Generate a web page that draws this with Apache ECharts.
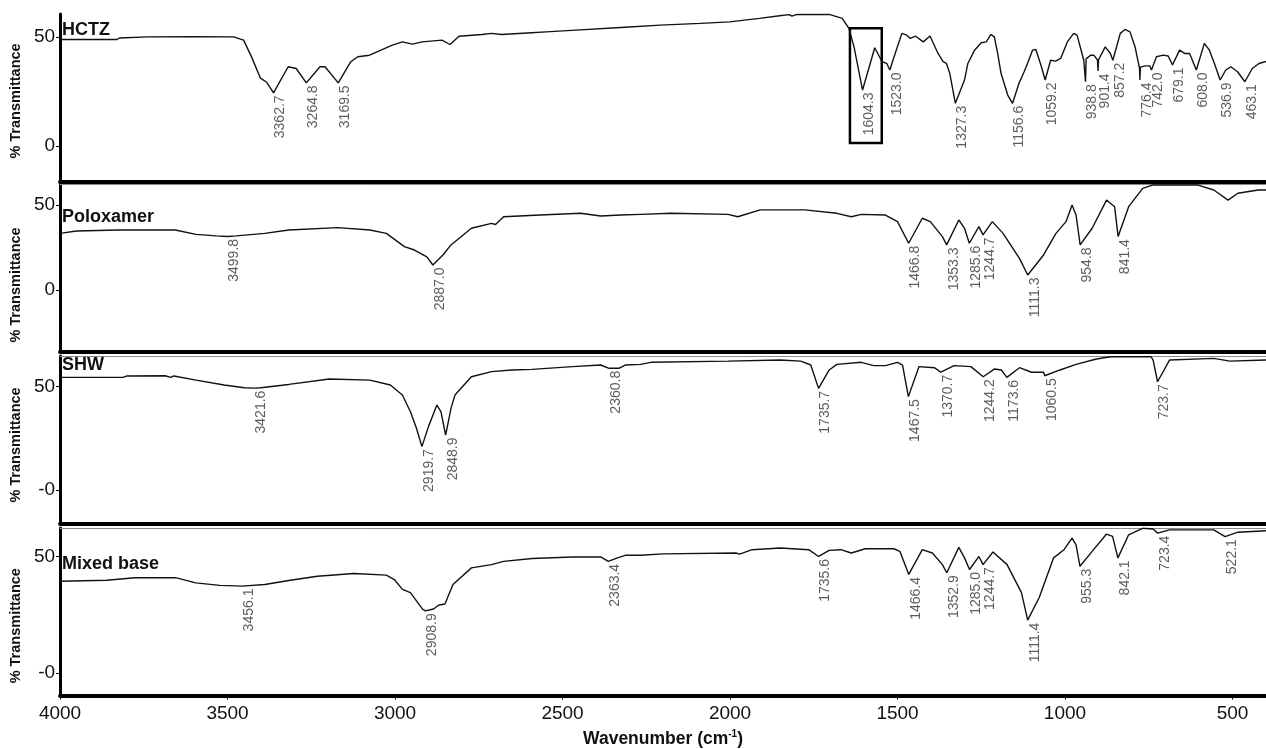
<!DOCTYPE html>
<html>
<head>
<meta charset="utf-8">
<title>FTIR spectra</title>
<script src="https://cdn.jsdelivr.net/npm/echarts@6/dist/echarts.min.js"></script>
<style>
  html, body { margin: 0; padding: 0; background: #fff; }
  #chart { width: 1266px; height: 749px; }
</style>
</head>
<body>
<div id="chart"></div>
<script>
// ---- data: wavenumber (cm-1), % transmittance ----
const panelNames = ['HCTZ', 'Poloxamer', 'SHW', 'Mixed base'];
const wavenumberTicks = [4000, 3500, 3000, 2500, 2000, 1500, 1000, 500];
const yTickValues = [0, 50];
const yTickLabels = [['0', '50'], ['0', '50'], ['-0', '50'], ['-0', '50']];

const hctzTrace = [
  [4000, 48.9], [3830, 48.9], [3822, 49.6], [3740, 50.1], [3600, 50.2], [3482, 50.1], [3452, 48.6],
  [3428, 40.8], [3402, 31.2], [3384, 29.4], [3319, 36.4], [3295, 35.6], [3224, 36.4], [3209, 36.4],
  [3132, 38.7], [3111, 41.0], [3076, 41.7], [3008, 46.3], [2978, 47.8], [2948, 46.8], [2943, 47.2],
  [2919, 47.8], [2860, 48.6], [2836, 46.6], [2809, 50.4], [2741, 51.2], [2712, 51.7], [2682, 51.2],
  [2593, 52.0], [2549, 52.4], [2460, 53.2], [2326, 54.4], [2208, 55.5], [2089, 56.3], [2001, 57.0],
  [1912, 58.6], [1852, 59.8], [1823, 60.3], [1815, 59.6], [1800, 60.4], [1704, 60.4], [1665, 58.6],
  [1645, 54.0], [1630, 45.6], [1568, 45.1], [1546, 38.7], [1532, 37.9], [1507, 42.5], [1487, 51.7],
  [1472, 50.9], [1462, 49.4], [1446, 50.4], [1423, 47.8], [1403, 50.5], [1379, 42.5], [1364, 38.7],
  [1354, 37.9], [1344, 33.4], [1300, 30.3], [1290, 37.9], [1270, 44.0], [1250, 47.4], [1235, 47.8],
  [1221, 51.2], [1211, 50.1], [1201, 42.5], [1191, 33.4], [1171, 23.4], [1137, 28.9], [1122, 34.1],
  [1112, 37.9], [1097, 44.0], [1087, 44.3], [1072, 37.2], [1043, 39.4], [1028, 39.0], [1013, 40.2],
  [993, 47.8], [974, 51.7], [964, 50.9], [944, 39.4], [940.5, 39.4], [937, 40.0], [924, 41.7],
  [914, 41.7], [903, 39.5], [899.8, 39.6], [880, 45.5], [865, 42.6], [835, 51.7], [821, 53.5],
  [806, 52.4], [791, 45.6], [777.5, 35.6], [775, 36.2], [761, 36.8], [747, 36.8], [727, 41.0],
  [707, 41.7], [692, 41.3], [658, 44.0], [643, 42.5], [628, 42.5], [584, 47.1], [569, 44.0],
  [554, 37.9], [520, 34.9], [505, 36.4], [485, 34.1], [441, 35.6], [421, 37.9], [400, 38.8]
];
const hctzPeaks = [
  [3362.7, 24.4], [3264.8, 29.0], [3169.5, 29.0], [1604.3, 25.7], [1523.0, 34.9], [1327.3, 19.6],
  [1156.6, 19.6], [1059.2, 30.3], [938.8, 29.5], [901.4, 34.5], [857.2, 39.4], [776.4, 30.3],
  [742.0, 34.9], [679.1, 37.2], [608.0, 34.9], [536.9, 30.3], [463.1, 29.5]
];
// outlined region around the 1604.3 band: [from cm-1, to cm-1, top %T, bottom %T]
const hctzBox = [1642, 1547, 54.1, 1.4];

const poloxamerTrace = [
  [4000, 33.3], [3951, 34.7], [3825, 35.3], [3656, 35.3], [3594, 32.7], [3534, 31.8], [3474, 31.8],
  [3389, 33.3], [3317, 35.3], [3171, 36.7], [3075, 35.3], [3026, 33.3], [2972, 25.5], [2942, 23.5],
  [2905, 19.5], [2857, 20.6], [2833, 26.5], [2772, 36.3], [2712, 39.2], [2700, 38.5], [2676, 43.1],
  [2567, 44.1], [2446, 45.1], [2386, 43.5], [2326, 44.1], [2267, 44.5], [2176, 45.1], [2006, 44.5],
  [1977, 43.1], [1910, 47.1], [1777, 47.1], [1681, 45.1], [1638, 43.1], [1608, 44.5], [1536, 44.1],
  [1500, 40.2], [1426, 42.2], [1402, 40.2], [1366, 31.4], [1317, 41.2], [1300, 36.3], [1257, 37.3],
  [1217, 40.2], [1185, 33.3], [1136, 18.6], [1064, 20.6], [1027, 33.3], [997, 40.2], [979, 50.0],
  [967, 44.1], [919, 36.3], [876, 52.9], [852, 49.0], [810, 49.0], [768, 59.8], [737, 61.8],
  [605, 61.8], [556, 58.8], [513, 52.9], [484, 56.9], [423, 58.8], [400, 58.8]
];
const poloxamerPeaks = [
  [3499.8, 31.5], [2887.0, 14.7], [1466.8, 27.5], [1353.3, 26.5], [1285.6, 27.5], [1244.7, 32.4],
  [1111.3, 8.8], [954.8, 26.5], [841.4, 31.4]
];

const shwTrace = [
  [4000, 54.5], [3812, 54.5], [3800, 55.2], [3686, 55.3], [3670, 54.5], [3660, 55.2], [3594, 53.2],
  [3510, 50.8], [3450, 49.5], [3401, 49.5], [3317, 51.1], [3196, 53.7], [3075, 53.2], [3014, 50.8],
  [2978, 46.0], [2954, 37.9], [2936, 29.9], [2900, 30.8], [2875, 41.1], [2863, 37.9], [2833, 39.5],
  [2821, 46.0], [2772, 54.8], [2712, 57.3], [2652, 58.1], [2591, 58.4], [2470, 59.7], [2386, 60.5],
  [2332, 58.9], [2313, 60.5], [2267, 60.8], [2236, 61.8], [2006, 62.4], [1850, 62.9], [1789, 62.4],
  [1759, 60.5], [1704, 58.1], [1681, 60.8], [1608, 61.8], [1571, 60.2], [1536, 60.2], [1500, 61.8],
  [1485, 60.5], [1436, 59.7], [1390, 59.2], [1331, 60.2], [1281, 59.7], [1210, 58.6], [1190, 58.1],
  [1136, 59.2], [1100, 57.0], [1064, 57.0], [1015, 58.1], [967, 60.8], [906, 63.4], [864, 64.5],
  [743, 64.5], [737, 62.9], [688, 62.9], [556, 63.7], [508, 62.4], [400, 62.9]
];
const shwPeaks = [
  [3421.6, 49.3], [2919.7, 21.0], [2848.9, 26.6], [2360.8, 58.9], [1735.7, 49.2], [1467.5, 45.2],
  [1370.7, 57.0], [1244.2, 54.8], [1173.6, 54.5], [1060.5, 55.3], [723.7, 52.4]
];

const mixedTrace = [
  [4000, 39.4], [3861, 39.8], [3776, 40.9], [3655, 40.9], [3595, 38.7], [3523, 37.6], [3389, 38.0],
  [3317, 39.7], [3232, 41.5], [3123, 42.7], [3026, 42.0], [3002, 40.1], [2978, 35.9], [2954, 34.5],
  [2918, 27.4], [2885, 27.5], [2869, 29.2], [2851, 29.6], [2827, 38.0], [2772, 45.1], [2712, 46.5],
  [2676, 47.9], [2591, 49.1], [2470, 49.8], [2386, 49.8], [2338, 49.3], [2313, 50.5], [2267, 50.5],
  [2200, 51.1], [1983, 51.5], [1971, 51.0], [1934, 52.9], [1850, 53.6], [1765, 52.9], [1704, 52.6],
  [1669, 52.9], [1638, 51.5], [1596, 53.3], [1511, 53.3], [1493, 52.2], [1426, 52.9], [1396, 51.5],
  [1366, 46.5], [1317, 53.9], [1300, 49.4], [1257, 50.0], [1215, 51.9], [1173, 46.5], [1130, 34.5],
  [1077, 32.4], [1034, 49.4], [1003, 52.9], [979, 57.9], [967, 55.0], [919, 52.2], [876, 59.6],
  [858, 58.6], [810, 59.3], [767, 62.1], [737, 61.8], [688, 61.4], [556, 61.4], [484, 60.4], [400, 61.0]
];
const mixedPeaks = [
  [3456.1, 37.3], [2908.9, 26.7], [2363.4, 47.9], [1735.6, 50.0], [1466.4, 42.3], [1352.9, 43.0],
  [1285.0, 44.4], [1244.7, 46.5], [1111.4, 22.7], [955.3, 45.8], [842.1, 49.4], [723.4, 60.0],
  [522.1, 58.5]
];

// ---- layout ----
const FONT = '"Liberation Sans", Arial, Helvetica, sans-serif';
const traces = [hctzTrace, poloxamerTrace, shwTrace, mixedTrace];
const peaks = [hctzPeaks, poloxamerPeaks, shwPeaks, mixedPeaks];
const gridTops = [14, 184, 356, 528];
const gridHeights = [168, 168, 168, 169];
const yRanges = [[-16.5, 60.6], [-36.5, 62.35], [-16.45, 64.86], [-9.6, 62.2]];
const axisNameShift = [3, 17, 5, 14];
const panelLabelY = [31, 218, 366, 565];

function mergeSpectrum(trace, pk) {
  return trace.concat(pk).sort((a, b) => b[0] - a[0]);
}

const grids = gridTops.map((t, i) => ({ left: 55, width: 1215, top: t, height: gridHeights[i] }));

const xAxes = gridTops.map((t, i) => {
  const isLast = i === gridTops.length - 1;
  return {
    gridIndex: i,
    type: 'value',
    min: 400,
    max: 4000,
    inverse: true,
    position: 'bottom',
    axisLine: { show: true, onZero: false, lineStyle: { color: '#000', width: 4 } },
    axisTick: { show: isLast, customValues: wavenumberTicks, length: 4, lineStyle: { color: '#000', width: 1 } },
    axisLabel: {
      show: isLast, customValues: wavenumberTicks, formatter: v => String(v),
      margin: 9, fontSize: 19, color: '#111', fontFamily: FONT
    },
    splitLine: { show: false },
    name: isLast ? 'Wavenumber (cm{sup|-1})' : '',
    nameLocation: 'middle',
    nameGap: 34,
    nameTextStyle: {
      fontSize: 17.5, fontWeight: 'bold', color: '#111', fontFamily: FONT,
      rich: { sup: { fontSize: 10, fontWeight: 'bold', color: '#111', fontFamily: FONT, padding: [0, 0, 9, 0] } }
    }
  };
});
// thin upper borders of the lower three panels
for (let i = 1; i < gridTops.length; i++) {
  xAxes.push({
    gridIndex: i, type: 'value', min: 400, max: 4000, inverse: true, position: 'top',
    axisLine: { show: true, onZero: false, lineStyle: { color: '#8a8a8a', width: 1 } },
    axisTick: { show: false }, axisLabel: { show: false }, splitLine: { show: false }
  });
}

const yAxes = gridTops.map((t, i) => ({
  gridIndex: i,
  type: 'value',
  min: yRanges[i][0],
  max: yRanges[i][1],
  axisLine: { show: true, onZero: false, lineStyle: { color: '#000', width: 3 } },
  axisTick: { show: true, customValues: yTickValues, length: 4, lineStyle: { color: '#000', width: 1 } },
  axisLabel: {
    customValues: yTickValues,
    formatter: v => yTickLabels[i][yTickValues.indexOf(v)],
    fontSize: 19, margin: 5, color: '#111', fontFamily: FONT
  },
  splitLine: { show: false },
  name: '% Transmittance',
  nameLocation: 'middle',
  nameRotate: 90,
  nameGap: 31,
  nameTextStyle: {
    fontSize: 14.5, fontWeight: 'bold', color: '#111', fontFamily: FONT,
    padding: [0, axisNameShift[i] * 2, 0, 0]
  }
}));

const series = [];
traces.forEach((tr, i) => {
  const line = {
    type: 'line',
    xAxisIndex: i,
    yAxisIndex: i,
    data: mergeSpectrum(tr, peaks[i]),
    symbol: 'none',
    showSymbol: false,
    clip: true,
    silent: true,
    lineStyle: { color: '#111', width: 1.4 },
    z: 3
  };
  if (i === 0) {
    line.markArea = {
      silent: true,
      itemStyle: { color: 'rgba(0,0,0,0)', borderColor: '#000', borderWidth: 2.5 },
      data: [[{ xAxis: hctzBox[0], yAxis: hctzBox[2] }, { xAxis: hctzBox[1], yAxis: hctzBox[3] }]]
    };
  }
  series.push(line);
  series.push({
    type: 'scatter',
    xAxisIndex: i,
    yAxisIndex: i,
    data: peaks[i],
    symbolSize: 1,
    silent: true,
    itemStyle: { color: 'rgba(0,0,0,0)' },
    label: {
      show: true,
      position: 'bottom',
      distance: 2,
      rotate: 90,
      align: 'right',
      verticalAlign: 'top',
      formatter: p => p.value[0].toFixed(1),
      fontSize: 14,
      color: '#333',
      fontFamily: FONT
    },
    z: 4
  });
});

const graphic = panelNames.map((n, i) => ({
  type: 'text',
  left: 62,
  top: panelLabelY[i] - 10,
  style: { text: n, font: 'bold 18px ' + FONT, fill: '#111' },
  z: 10
}));

const chart = echarts.init(document.getElementById('chart'), null, { renderer: 'canvas' });
chart.setOption({
  animation: false,
  backgroundColor: '#fff',
  grid: grids,
  xAxis: xAxes,
  yAxis: yAxes,
  series: series,
  graphic: graphic
});
</script>
</body>
</html>
